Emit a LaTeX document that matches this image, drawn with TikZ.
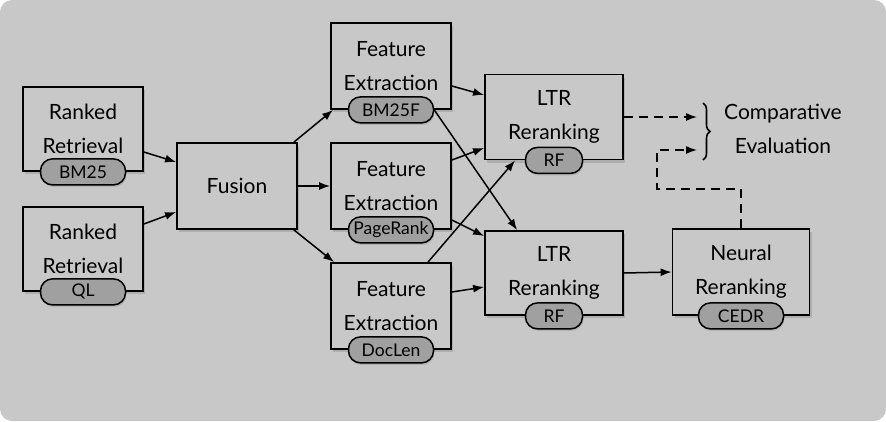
\documentclass[tikz,border=0pt]{standalone}
\usepackage{fontspec}
\setmainfont{Lato}
\usepackage{tikz}
\usetikzlibrary{positioning, arrows.meta, calc, shadows, decorations.pathreplacing}
\definecolor{panelgray}{RGB}{200,200,200}
\definecolor{taggray}{RGB}{160,160,160}

\begin{document}
\begin{tikzpicture}[
    x=1pt, y=-1pt,
    >={Latex[length=11pt, width=8pt]},
    stagestyle/.style={rectangle, draw, line width=1.8pt, fill=panelgray,
        minimum width=120pt, minimum height=86pt, align=center,
        font=\fontsize{21}{34}\selectfont,
        drop shadow={shadow xshift=2pt, shadow yshift=-3pt, opacity=0.35}},
    tagstyle/.style={rectangle, rounded corners=12pt, draw, line width=1.5pt,
        fill=taggray, minimum width=85pt, minimum height=26pt, inner sep=0pt,
        font=\fontsize{17.5}{19}\selectfont,
        drop shadow={shadow xshift=1pt, shadow yshift=-2pt, opacity=0.3}},
    linkstyle/.style={->, line width=1.5pt},
    evalstyle/.style={->, line width=1.5pt, dash pattern=on 9pt off 6pt}
]

\useasboundingbox (0,0) rectangle (886,421);
\fill[panelgray, rounded corners=12pt] (0,0) rectangle (886,421);

% retrieval runs
\node[stagestyle, minimum height=84pt] (rr1) at (83,129) {Ranked\\Retrieval};
\node[tagstyle] (bm25) at (rr1.south) {BM25};
\node[stagestyle, minimum height=84pt] (rr2) at (83,249) {Ranked\\Retrieval};
\node[tagstyle] (ql) at (rr2.south) {QL};

\node[stagestyle] (fus) at (237,186) {Fusion};

% features
\node[stagestyle] (fe1) at (391,66) {Feature\\Extraction};
\node[tagstyle] (bm25f) at (fe1.south) {BM25F};
\node[stagestyle] (fe2) at (391,186) {Feature\\Extraction};
\node[tagstyle] (pr) at (fe2.south) {PageRank};
\node[stagestyle] (fe3) at (391,306) {Feature\\Extraction};
\node[tagstyle] (dl) at (fe3.south) {DocLen};

% rerankers
\node[stagestyle, minimum width=138pt, minimum height=85pt] (ltr1) at (554,117) {LTR\\Reranking};
\node[tagstyle, minimum width=57pt] (rf1) at (ltr1.south) {RF};
\node[stagestyle, minimum width=138pt, minimum height=84pt] (ltr2) at (554,273) {LTR\\Reranking};
\node[tagstyle, minimum width=57pt] (rf2) at (ltr2.south) {RF};
\node[stagestyle, minimum width=137pt] (neu) at (741,272) {Neural\\Reranking};
\node[tagstyle] (cedr) at (neu.south) {CEDR};

% evaluation
\node[align=center, font=\fontsize{21}{34}\selectfont] (cmp) at (783,129) {Comparative\\Evaluation};
\coordinate (cmpA) at (697,117);
\coordinate (cmpB) at (697,150);
\coordinate (bend) at (657,189);
\draw[decorate, decoration={brace, amplitude=7pt}, line width=1.6pt] (703,103) -- (703,160);

\draw[linkstyle] ($(rr1.east)+(0,23)$) -- ($(fus.west)+(0,-24)$);
\draw[linkstyle] ($(rr2.east)+(0,-25)$) -- ($(fus.west)+(0,26)$);

\draw[linkstyle] ($(fus.north east)+(-4,0)$) -- ($(fe1.south west)+(3,0)$);
\draw[linkstyle] (fus.east) -- (fe2.west);
\draw[linkstyle] ($(fus.south east)+(-4,0)$) -- ($(fe3.north west)+(4,0)$);

\draw[linkstyle] ($(fe1.east)+(0,20)$) -- ($(ltr1.west)+(0,-22)$);
\draw[linkstyle] (bm25f.east) -- ($(ltr2.north west)+(33,0)$);
\draw[linkstyle] ($(fe2.east)+(0,-26)$) -- ($(ltr1.west)+(0,31)$);
\draw[linkstyle] ($(fe2.east)+(0,34)$) -- ($(ltr2.west)+(0,-37)$);
\draw[linkstyle] ($(fe3.north)+(37,0)$) -- ($(ltr1.south west)+(31,0)$);
\draw[linkstyle] ($(fe3.east)+(0,-14)$) -- ($(ltr2.west)+(0,14)$);

\draw[linkstyle] (ltr2.east) -- (neu.west);

\draw[evalstyle] (ltr1.east) -- (cmpA);
\draw[evalstyle] (neu.north) |- (bend) |- (cmpB);

\end{tikzpicture}
\end{document}
